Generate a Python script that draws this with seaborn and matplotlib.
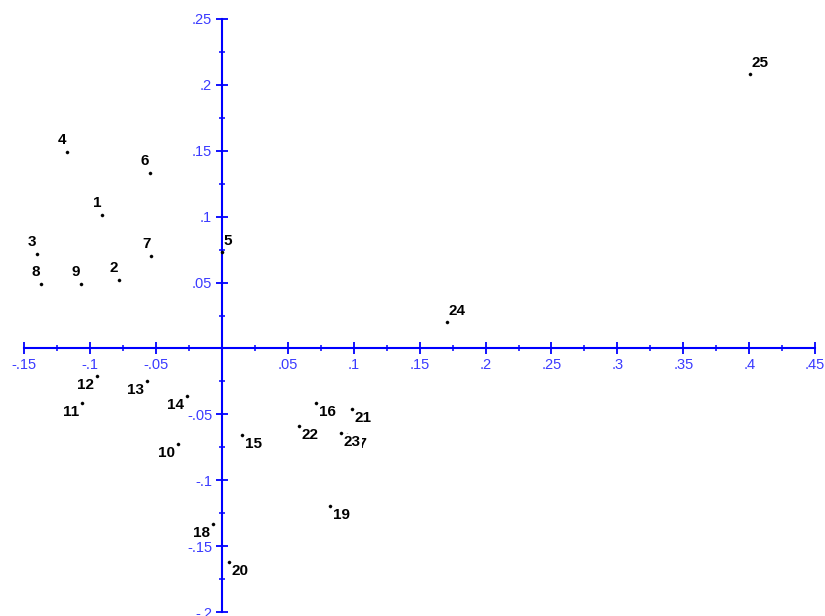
import pandas as pd
import seaborn as sns
import matplotlib
matplotlib.use("Agg")
import matplotlib.pyplot as plt
from matplotlib.ticker import MultipleLocator, FuncFormatter

# point labels and their coordinates
labels = [str(i) for i in range(1, 26)]
x_vals = [-0.091, -0.078, -0.140, -0.1176, 0.000, -0.0546, -0.0535, -0.137, -0.107,
          -0.0334, -0.106, -0.095, -0.057, -0.0266, 0.015, 0.0713, 0.0945, -0.0068,
          0.082, 0.0053, 0.0986, 0.0584, 0.0903, 0.1707, 0.4006]
y_vals = [0.1013, 0.052, 0.0717, 0.149, 0.073, 0.133, 0.070, 0.049, 0.049,
          -0.0726, -0.0415, -0.021, -0.0245, -0.036, -0.0656, -0.0415, -0.066, -0.133,
          -0.1195, -0.162, -0.046, -0.0588, -0.064, 0.020, 0.208]

df = pd.DataFrame({"label": labels, "x": x_vals, "y": y_vals})

sns.set_style("white")
plt.rcParams["font.family"] = ["Liberation Sans", "DejaVu Sans"]

axis_blue = "#0000ff"
tick_blue = "#3a3aff"

fig = plt.figure(figsize=(8.25, 6.16), dpi=100)
ax = fig.add_axes([0, 0, 1, 1])

sns.scatterplot(data=df, x="x", y="y", ax=ax, color="black", s=5,
                marker="o", edgecolor="black", linewidth=0.3, zorder=3)

# label placement depends on the quadrant of the point
for _, row in df.iterrows():
    if row.y >= 0 and row.x < 0:
        off, ha = (-1, 12), "right"
    elif row.y >= 0:
        off, ha = (2, 11), "left"
    elif row.x < 0:
        off, ha = (-3, -9), "right"
    else:
        off, ha = (3, -9), "left"
    ax.annotate(row.label, (row.x, row.y), xytext=off, textcoords="offset pixels",
                ha=ha, va="center", fontsize=11, fontweight="bold", color="black",
                bbox=dict(facecolor="white", edgecolor="none", pad=0.6), zorder=4)

ax.set_xlim(-0.1684, 0.4575)
ax.set_ylim(-0.203, 0.2644)

for side in ["top", "right"]:
    ax.spines[side].set_visible(False)
ax.spines["left"].set_position(("data", 0))
ax.spines["bottom"].set_position(("data", 0))
ax.spines["left"].set_bounds(-0.2, 0.25)
ax.spines["bottom"].set_bounds(-0.15, 0.45)
for side in ["left", "bottom"]:
    ax.spines[side].set_color(axis_blue)
    ax.spines[side].set_linewidth(1.5)
    ax.spines[side].set_zorder(2)


def fmt(v, pos):
    if abs(v) < 1e-9:
        return ""
    s = f"{v:g}"
    return s.replace("-0.", "-.").replace("0.", ".") if s.startswith(("0.", "-0.")) else s


for axis in [ax.xaxis, ax.yaxis]:
    axis.set_major_locator(MultipleLocator(0.05))
    axis.set_minor_locator(MultipleLocator(0.025))
    axis.set_major_formatter(FuncFormatter(fmt))

ax.tick_params(which="major", direction="inout", length=8, width=1.3,
               color=axis_blue, labelcolor=tick_blue, labelsize=10.5, pad=3)
ax.tick_params(which="minor", direction="inout", length=5, width=1.1, color=axis_blue)
ax.tick_params(axis="x", which="both", bottom=True)
ax.tick_params(axis="y", which="both", left=True)

ax.set_xlabel("")
ax.set_ylabel("")
ax.grid(False)

fig.savefig("out.png", dpi=100)
